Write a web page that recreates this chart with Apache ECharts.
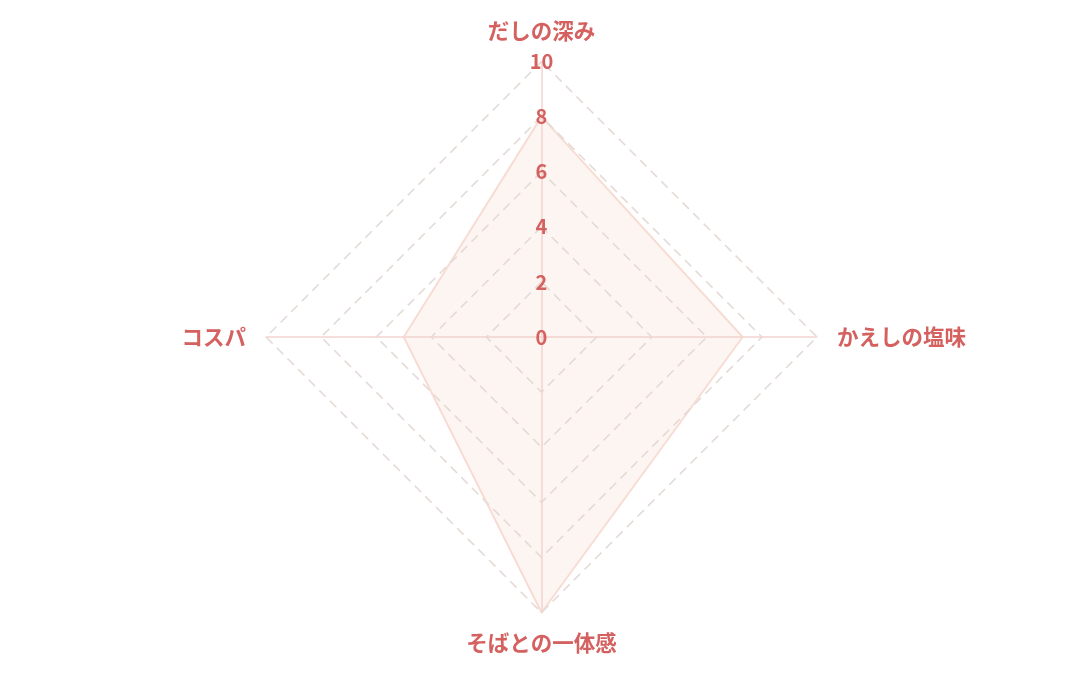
<!doctype html>
<html>
<head>
<meta charset="UTF-8">
<title>そば レーダー</title>
<script src="https://cdn.jsdelivr.net/npm/echarts@6/dist/echarts.min.js"></script>
<style>
  html, body { margin: 0; padding: 0; background: #fff; }
  #main { width: 1080px; height: 675px; }
</style>
</head>
<body>
<div id="main"></div>
<script>
  // 評価項目（ECharts は反時計回りに並べるので 上→左→下→右 の順）
  var indicatorNames = ['だしの深み', 'コスパ', 'そばとの一体感', 'かえしの塩味'];
  var indicatorMax = 10;
  // 評価値
  var scoreValues = [8, 5, 10, 7.3];

  var labelColor = '#d4615f';
  var fontFamily = '"Noto Sans CJK JP", "Noto Sans", sans-serif';

  var indicators = indicatorNames.map(function (name, i) {
    var item = { name: name, max: indicatorMax, min: 0 };
    // 目盛りの数字は一番上の軸だけ
    if (i === 0) {
      item.axisLabel = {
        show: true,
        color: labelColor,
        fontSize: 20,
        fontWeight: 'bold',
        fontFamily: fontFamily,
        margin: 0,
        align: 'center',
        verticalAlign: 'middle'
      };
    }
    return item;
  });

  var myChart = echarts.init(document.getElementById('main'));
  var option = {
    animation: false,
    radar: {
      z: 3,
      center: ['50.14%', '49.93%'],
      radius: 275.5,
      startAngle: 90,
      shape: 'polygon',
      splitNumber: 5,
      indicator: indicators,
      axisName: {
        color: labelColor,
        fontSize: 21.5,
        fontWeight: 'bold',
        fontFamily: fontFamily
      },
      nameGap: 20,
      axisLabel: { show: false },
      axisLine: { lineStyle: { color: '#f3d3d1', width: 1.5 } },
      splitLine: { lineStyle: { color: '#e4dad6', type: [9, 6], width: 1.6 } },
      splitArea: { show: false }
    },
    series: [
      {
        type: 'radar',
        z: 2,
        symbol: 'none',
        lineStyle: { color: '#f7dcd4', width: 2 },
        areaStyle: { color: 'rgba(250, 222, 212, 0.45)' },
        data: [ { value: scoreValues, name: '評価' } ]
      }
    ]
  };
  myChart.setOption(option);
</script>
</body>
</html>
